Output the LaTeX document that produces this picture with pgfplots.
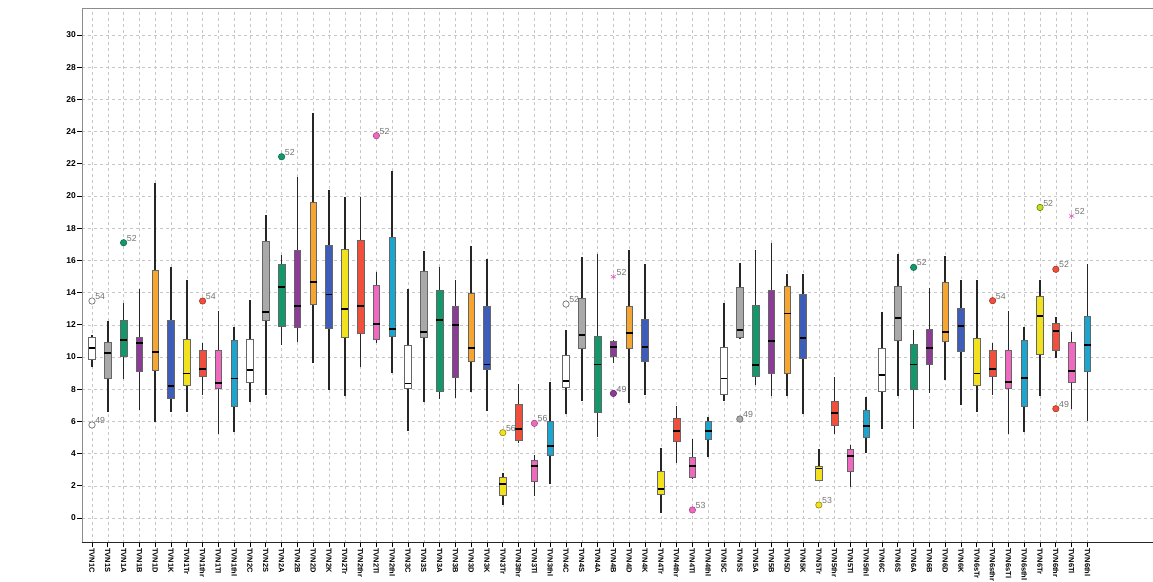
\documentclass[border=0pt]{standalone}
\usepackage{pgfplots}
\pgfplotsset{compat=1.18}
\usepgfplotslibrary{statistics}
\usepackage{fontspec}
\setmainfont{Liberation Sans}
\definecolor{cW}{HTML}{FFFFFF}
\definecolor{cS}{HTML}{A9A9A9}
\definecolor{cA}{HTML}{13986B}
\definecolor{cB}{HTML}{8C3B97}
\definecolor{cD}{HTML}{F6A531}
\definecolor{cK}{HTML}{3D5DB9}
\definecolor{cY}{HTML}{F1E11F}
\definecolor{cR}{HTML}{EF4F3B}
\definecolor{cP}{HTML}{EF69C1}
\definecolor{cC}{HTML}{1BA5CF}
\pgfplotsset{
  bx/.style={solid, fill=#1, draw=black!60, line width=0.7bp,
    boxplot/draw direction=y,
    boxplot/box extend=0.42,
    boxplot/whisker extend=0,
    boxplot/every whisker/.style={draw=black!85, line width=1.5bp},
    boxplot/every median/.style={draw=black, line width=1.8bp}},
  ol/.style={only marks, mark=*, mark size=3.2bp,
    nodes near coords, point meta=explicit symbolic,
    every node near coord/.style={font=\fontsize{8.8}{10}\selectfont, text=black!55,
      anchor=south west, inner sep=1bp, xshift=2bp, yshift=0bp}},
}
\begin{document}
\begin{tikzpicture}
\begin{axis}[name=ax,
  scale only axis, width=1071bp, height=535bp,
  xmin=-0.633, xmax=67.15, ymin=-1.55, ymax=31.68,
  axis line style={draw=none},
  tick align=outside, xtick pos=bottom, ytick pos=left,
  major tick length=4.5bp,
  tick style={black, line width=0.9bp},
  xtick={0,...,63},
  xticklabels={TVN1C,TVN1S,TVN1A,TVN1B,TVN1D,TVN1K,TVN1Tr,TVN1thr,TVN1Tl,TVN1thl,
    TVN2C,TVN2S,TVN2A,TVN2B,TVN2D,TVN2K,TVN2Tr,TVN2thr,TVN2Tl,TVN2thl,
    TVN3C,TVN3S,TVN3A,TVN3B,TVN3D,TVN3K,TVN3Tr,TVN3thr,TVN3Tl,TVN3thl,
    TVN4C,TVN4S,TVN4A,TVN4B,TVN4D,TVN4K,TVN4Tr,TVN4thr,TVN4Tl,TVN4thl,
    TVN5C,TVN5S,TVN5A,TVN5B,TVN5D,TVN5K,TVN5Tr,TVN5thr,TVN5Tl,TVN5thl,
    TVN6C,TVN6S,TVN6A,TVN6B,TVN6D,TVN6K,TVN6sTr,TVN6sthr,TVN6sTl,TVN6sthl,
    TVN6Tr,TVN6thr,TVN6Tl,TVN6thl},
  xticklabel style={rotate=-90, anchor=west, font=\bfseries\fontsize{7.5}{9}\selectfont, inner sep=0.5bp},
  ytick={0,2,...,30},
  yticklabel style={font=\bfseries\fontsize{8.5}{10}\selectfont, inner sep=1.5bp},
  /pgf/number format/assume math mode=true,
  grid=major,
  grid style={black!22, dash pattern=on 3bp off 3bp, line width=0.5bp},
]
% group 1
\addplot[bx=cW, boxplot prepared={draw position=0, lower whisker=9.40, lower quartile=9.86, median=10.56, upper quartile=11.22, upper whisker=11.37}] coordinates {};
\addplot[bx=cS, boxplot prepared={draw position=1, lower whisker=6.60, lower quartile=8.65, median=10.23, upper quartile=10.89, upper whisker=12.26}] coordinates {};
\addplot[bx=cA, boxplot prepared={draw position=2, lower whisker=8.61, lower quartile=10.06, median=11.06, upper quartile=12.26, upper whisker=13.33}] coordinates {};
\addplot[bx=cB, boxplot prepared={draw position=3, lower whisker=6.71, lower quartile=9.09, median=10.89, upper quartile=11.20, upper whisker=14.20}] coordinates {};
\addplot[bx=cD, boxplot prepared={draw position=4, lower whisker=5.98, lower quartile=9.15, median=10.33, upper quartile=15.40, upper whisker=20.83}] coordinates {};
\addplot[bx=cK, boxplot prepared={draw position=5, lower whisker=6.60, lower quartile=7.43, median=8.22, upper quartile=12.28, upper whisker=15.57}] coordinates {};
\addplot[bx=cY, boxplot prepared={draw position=6, lower whisker=6.56, lower quartile=8.22, median=8.98, upper quartile=11.12, upper whisker=14.78}] coordinates {};
\addplot[bx=cR, boxplot prepared={draw position=7, lower whisker=7.64, lower quartile=8.82, median=9.25, upper quartile=10.39, upper whisker=10.85}] coordinates {};
\addplot[bx=cP, boxplot prepared={draw position=8, lower whisker=5.20, lower quartile=8.05, median=8.41, upper quartile=10.43, upper whisker=12.88}] coordinates {};
\addplot[bx=cC, boxplot prepared={draw position=9, lower whisker=5.36, lower quartile=6.92, median=8.67, upper quartile=11.06, upper whisker=11.88}] coordinates {};
% group 2
\addplot[bx=cW, boxplot prepared={draw position=10, lower whisker=7.22, lower quartile=8.41, median=9.19, upper quartile=11.10, upper whisker=13.54}] coordinates {};
\addplot[bx=cS, boxplot prepared={draw position=11, lower whisker=7.64, lower quartile=12.30, median=12.80, upper quartile=17.16, upper whisker=18.84}] coordinates {};
\addplot[bx=cA, boxplot prepared={draw position=12, lower whisker=10.75, lower quartile=11.90, median=14.33, upper quartile=15.74, upper whisker=16.34}] coordinates {};
\addplot[bx=cB, boxplot prepared={draw position=13, lower whisker=10.91, lower quartile=11.82, median=13.19, upper quartile=16.65, upper whisker=21.16}] coordinates {};
\addplot[bx=cD, boxplot prepared={draw position=14, lower whisker=9.61, lower quartile=13.29, median=14.68, upper quartile=19.58, upper whisker=25.18}] coordinates {};
\addplot[bx=cK, boxplot prepared={draw position=15, lower whisker=7.95, lower quartile=11.78, median=13.89, upper quartile=16.96, upper whisker=20.37}] coordinates {};
\addplot[bx=cY, boxplot prepared={draw position=16, lower whisker=7.58, lower quartile=11.22, median=12.96, upper quartile=16.69, upper whisker=19.92}] coordinates {};
\addplot[bx=cR, boxplot prepared={draw position=17, lower whisker=9.36, lower quartile=11.47, median=13.19, upper quartile=17.27, upper whisker=19.96}] coordinates {};
\addplot[bx=cP, boxplot prepared={draw position=18, lower whisker=10.85, lower quartile=11.10, median=12.05, upper quartile=14.45, upper whisker=15.30}] coordinates {};
\addplot[bx=cC, boxplot prepared={draw position=19, lower whisker=8.99, lower quartile=11.30, median=11.74, upper quartile=17.43, upper whisker=21.57}] coordinates {};
% group 3
\addplot[bx=cW, boxplot prepared={draw position=20, lower whisker=5.40, lower quartile=8.05, median=8.36, upper quartile=10.75, upper whisker=14.20}] coordinates {};
\addplot[bx=cS, boxplot prepared={draw position=21, lower whisker=7.18, lower quartile=11.22, median=11.57, upper quartile=15.34, upper whisker=16.61}] coordinates {};
\addplot[bx=cA, boxplot prepared={draw position=22, lower whisker=7.37, lower quartile=7.85, median=12.30, upper quartile=14.12, upper whisker=15.61}] coordinates {};
\addplot[bx=cB, boxplot prepared={draw position=23, lower whisker=7.47, lower quartile=8.74, median=12.01, upper quartile=13.13, upper whisker=14.78}] coordinates {};
\addplot[bx=cD, boxplot prepared={draw position=24, lower whisker=7.85, lower quartile=9.71, median=10.54, upper quartile=13.95, upper whisker=16.89}] coordinates {};
\addplot[bx=cK, boxplot prepared={draw position=25, lower whisker=6.65, lower quartile=9.23, median=9.54, upper quartile=13.13, upper whisker=16.07}] coordinates {};
\addplot[bx=cY, boxplot prepared={draw position=26, lower whisker=0.81, lower quartile=1.41, median=2.09, upper quartile=2.53, upper whisker=2.82}] coordinates {};
\addplot[bx=cR, boxplot prepared={draw position=27, lower whisker=4.69, lower quartile=4.84, median=5.55, upper quartile=7.08, upper whisker=8.32}] coordinates {};
\addplot[bx=cP, boxplot prepared={draw position=28, lower whisker=1.37, lower quartile=2.26, median=3.23, upper quartile=3.60, upper whisker=3.91}] coordinates {};
\addplot[bx=cC, boxplot prepared={draw position=29, lower whisker=2.09, lower quartile=3.91, median=4.47, upper quartile=5.98, upper whisker=8.47}] coordinates {};
% group 4
\addplot[bx=cW, boxplot prepared={draw position=30, lower whisker=6.46, lower quartile=8.12, median=8.53, upper quartile=10.12, upper whisker=11.68}] coordinates {};
\addplot[bx=cS, boxplot prepared={draw position=31, lower whisker=7.29, lower quartile=10.54, median=11.39, upper quartile=13.64, upper whisker=16.19}] coordinates {};
\addplot[bx=cA, boxplot prepared={draw position=32, lower whisker=5.05, lower quartile=6.54, median=9.54, upper quartile=11.30, upper whisker=16.40}] coordinates {};
\addplot[bx=cB, boxplot prepared={draw position=33, lower whisker=9.61, lower quartile=10.02, median=10.60, upper quartile=11.00, upper whisker=11.06}] coordinates {};
\addplot[bx=cD, boxplot prepared={draw position=34, lower whisker=7.12, lower quartile=10.54, median=11.51, upper quartile=13.17, upper whisker=16.65}] coordinates {};
\addplot[bx=cK, boxplot prepared={draw position=35, lower whisker=7.64, lower quartile=9.71, median=10.60, upper quartile=12.36, upper whisker=15.75}] coordinates {};
\addplot[bx=cY, boxplot prepared={draw position=36, lower whisker=0.29, lower quartile=1.47, median=1.78, upper quartile=2.88, upper whisker=4.33}] coordinates {};
\addplot[bx=cR, boxplot prepared={draw position=37, lower whisker=3.39, lower quartile=4.78, median=5.40, upper quartile=6.19, upper whisker=6.96}] coordinates {};
\addplot[bx=cP, boxplot prepared={draw position=38, lower whisker=2.45, lower quartile=2.51, median=3.25, upper quartile=3.75, upper whisker=4.89}] coordinates {};
\addplot[bx=cC, boxplot prepared={draw position=39, lower whisker=3.77, lower quartile=4.89, median=5.40, upper quartile=5.98, upper whisker=6.25}] coordinates {};
% group 5
\addplot[bx=cW, boxplot prepared={draw position=40, lower whisker=7.27, lower quartile=7.70, median=8.67, upper quartile=10.60, upper whisker=13.37}] coordinates {};
\addplot[bx=cS, boxplot prepared={draw position=41, lower whisker=11.10, lower quartile=11.22, median=11.68, upper quartile=14.31, upper whisker=15.86}] coordinates {};
\addplot[bx=cA, boxplot prepared={draw position=42, lower whisker=8.26, lower quartile=8.82, median=9.50, upper quartile=13.23, upper whisker=16.65}] coordinates {};
\addplot[bx=cB, boxplot prepared={draw position=43, lower whisker=7.56, lower quartile=8.98, median=11.01, upper quartile=14.16, upper whisker=17.10}] coordinates {};
\addplot[bx=cD, boxplot prepared={draw position=44, lower whisker=7.56, lower quartile=8.98, median=12.71, upper quartile=14.41, upper whisker=15.16}] coordinates {};
\addplot[bx=cK, boxplot prepared={draw position=45, lower whisker=6.46, lower quartile=9.92, median=11.16, upper quartile=13.91, upper whisker=15.16}] coordinates {};
\addplot[bx=cY, boxplot prepared={draw position=46, lower whisker=2.33, lower quartile=2.36, median=3.08, upper quartile=3.19, upper whisker=4.27}] coordinates {};
\addplot[bx=cR, boxplot prepared={draw position=47, lower whisker=5.22, lower quartile=5.78, median=6.54, upper quartile=7.22, upper whisker=8.74}] coordinates {};
\addplot[bx=cP, boxplot prepared={draw position=48, lower whisker=1.95, lower quartile=2.92, median=3.85, upper quartile=4.27, upper whisker=4.53}] coordinates {};
\addplot[bx=cC, boxplot prepared={draw position=49, lower whisker=4.06, lower quartile=5.01, median=5.71, upper quartile=6.71, upper whisker=7.49}] coordinates {};
% group 6
\addplot[bx=cW, boxplot prepared={draw position=50, lower whisker=5.51, lower quartile=7.89, median=8.88, upper quartile=10.54, upper whisker=12.78}] coordinates {};
\addplot[bx=cS, boxplot prepared={draw position=51, lower whisker=7.58, lower quartile=11.01, median=12.40, upper quartile=14.37, upper whisker=16.38}] coordinates {};
\addplot[bx=cA, boxplot prepared={draw position=52, lower whisker=5.51, lower quartile=7.99, median=9.54, upper quartile=10.79, upper whisker=11.68}] coordinates {};
\addplot[bx=cB, boxplot prepared={draw position=53, lower whisker=7.78, lower quartile=9.54, median=10.54, upper quartile=11.72, upper whisker=14.31}] coordinates {};
\addplot[bx=cD, boxplot prepared={draw position=54, lower whisker=8.57, lower quartile=10.95, median=11.57, upper quartile=14.64, upper whisker=16.29}] coordinates {};
\addplot[bx=cK, boxplot prepared={draw position=55, lower whisker=7.02, lower quartile=10.33, median=11.93, upper quartile=13.02, upper whisker=14.78}] coordinates {};
\addplot[bx=cY, boxplot prepared={draw position=56, lower whisker=6.60, lower quartile=8.26, median=8.98, upper quartile=11.16, upper whisker=14.78}] coordinates {};
\addplot[bx=cR, boxplot prepared={draw position=57, lower whisker=7.64, lower quartile=8.78, median=9.28, upper quartile=10.39, upper whisker=10.85}] coordinates {};
\addplot[bx=cP, boxplot prepared={draw position=58, lower whisker=5.20, lower quartile=8.05, median=8.43, upper quartile=10.43, upper whisker=12.88}] coordinates {};
\addplot[bx=cC, boxplot prepared={draw position=59, lower whisker=5.36, lower quartile=6.92, median=8.69, upper quartile=11.06, upper whisker=11.88}] coordinates {};
\addplot[bx=cY, boxplot prepared={draw position=60, lower whisker=7.56, lower quartile=10.17, median=12.55, upper quartile=13.75, upper whisker=14.78}] coordinates {};
\addplot[bx=cR, boxplot prepared={draw position=61, lower whisker=9.96, lower quartile=10.43, median=11.61, upper quartile=12.09, upper whisker=12.51}] coordinates {};
\addplot[bx=cP, boxplot prepared={draw position=62, lower whisker=6.75, lower quartile=8.41, median=9.15, upper quartile=10.91, upper whisker=11.53}] coordinates {};
\addplot[bx=cC, boxplot prepared={draw position=63, lower whisker=6.05, lower quartile=9.09, median=10.75, upper quartile=12.51, upper whisker=15.78}] coordinates {};
% outliers
\addplot[ol, mark options={fill=white, draw=black!55, line width=0.7bp}] coordinates {(0,13.48) [54] (0,5.78) [49] (30,13.29) [52]};
\addplot[ol, mark options={fill=cS, draw=black!55, line width=0.7bp}] coordinates {(41,6.15) [49]};
\addplot[ol, mark options={fill=cA, draw=cA!70!black, line width=0.6bp}] coordinates {(2,17.10) [52] (12,22.44) [52] (52,15.57) [52]};
\addplot[ol, mark options={fill=cR, draw=cR!70!black, line width=0.6bp}] coordinates {(7,13.48) [54] (57,13.50) [54] (61,15.45) [52] (61,6.79) [49]};
\addplot[ol, mark options={fill=cP, draw=cP!70!black, line width=0.6bp}] coordinates {(18,23.75) [52] (28,5.88) [56] (38,0.50) [53]};
\addplot[ol, mark options={fill=cY, draw=cY!60!black, line width=0.6bp}] coordinates {(26,5.30) [56] (46,0.81) [53]};
\addplot[ol, mark options={fill=cY!75!green, draw=cY!50!black, line width=0.6bp}] coordinates {(60,19.29) [52]};
\addplot[ol, mark options={fill=cB, draw=cB!70!black, line width=0.6bp}] coordinates {(33,7.74) [49]};
\addplot[ol, mark=asterisk, mark size=3bp, mark options={draw=cP!80!cB, line width=0.6bp}] coordinates {(33,14.99) [52] (62,18.76) [52]};
% frame
\draw[black!45, line width=0.8bp] (rel axis cs:0,0) -- (rel axis cs:0,1) -- (rel axis cs:1,1);
\draw[black!85, line width=1.6bp] (rel axis cs:0,0) -- (rel axis cs:1,0);
\end{axis}
\pgfresetboundingbox
\path[use as bounding box] ([xshift=-82bp,yshift=-39bp]ax.south west) rectangle ([yshift=8bp]ax.north east);
\end{tikzpicture}
\end{document}
